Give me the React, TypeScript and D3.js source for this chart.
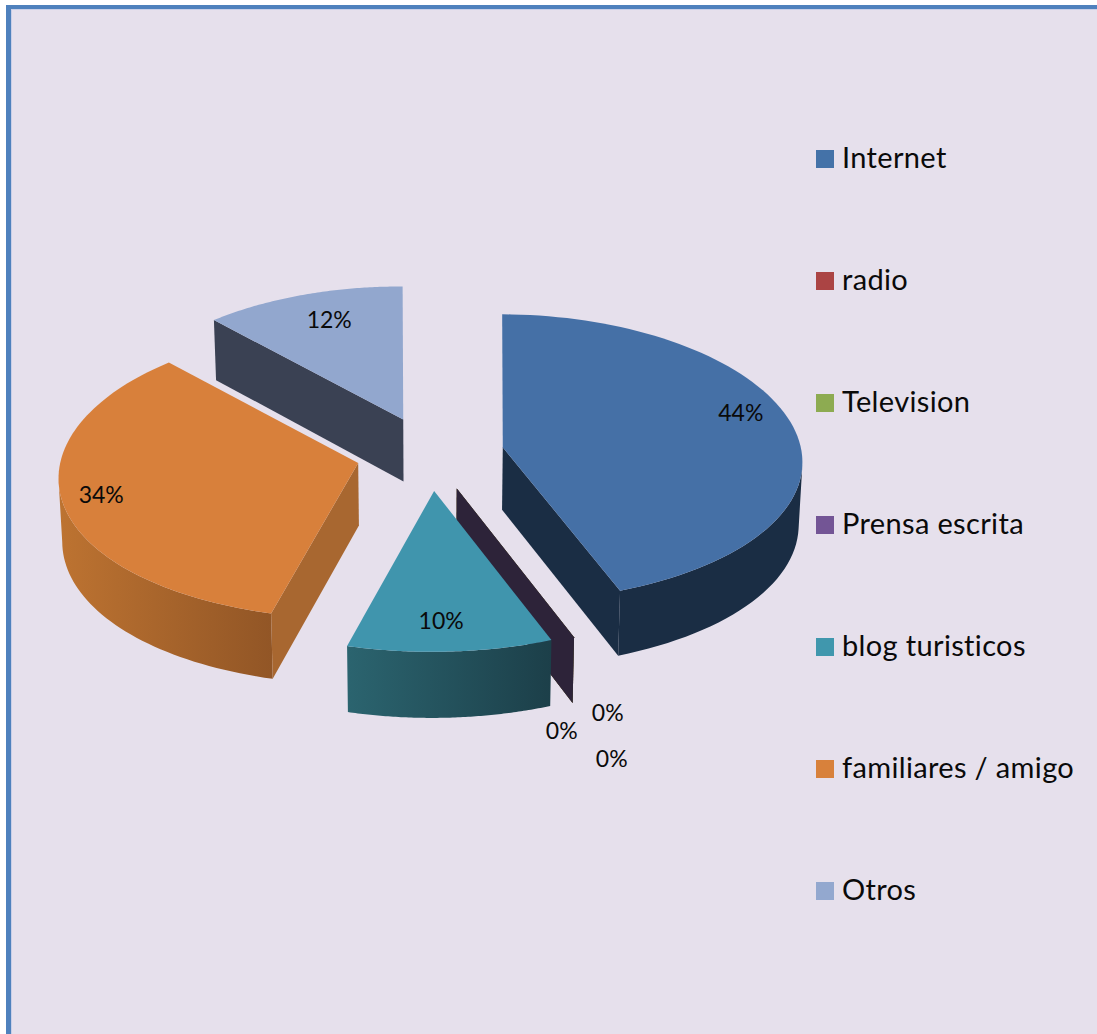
import React from "react";
import * as d3 from "d3";

// Share of answers per information source (percent)
const categories = ["Internet", "radio", "Television", "Prensa escrita", "blog turisticos", "familiares / amigo", "Otros"];
const shares = [44, 0, 0, 0, 10, 34, 12];

const WIDTH = 1097;
const HEIGHT = 1034;

// Per-category appearance
const topColors = ["#4570a6", "#ab4543", "#8dab51", "#735595", "#4095ad", "#d8803b", "#92a7ce"];
const wallFrom = ["#1a2d44", "#5c2322", "#4a5a2b", "#2d2339", "#2b646f", "#bd7331", "#3a4153"];
const wallTo = ["#1a2d44", "#5c2322", "#4a5a2b", "#2d2339", "#1c3f49", "#925626", "#3a4153"];
const sideColors = ["#1a2d44", "#5c2322", "#4a5a2b", "#2d2339", "#25525d", "#a86730", "#3a4153"];
const legendColors = ["#4472a8", "#ab4444", "#8dab51", "#735595", "#4097ad", "#d8813b", "#93a8cf"];

// Where each value label sits, relative to the apex of its slice
const labelOffsets: [number, number][] = [
  [238, -35],
  [105, 242],
  [151, 224],
  [155, 270],
  [7, 130],
  [-257, 32],
  [-74, -100],
];

// Projection of the tilted pie
const CX = 430;
const CY = 454;
const RX = 298;
const RY = 143;
const PERSPECTIVE_X = 0.105;
const PERSPECTIVE_Y = 0.075;
const VIEW_LEAN = 2.5;
const FRONT_STRETCH = 0.0011;
const EXPLODE_X = 74;
const EXPLODE_Y = 37;
const DEPTH = 62.5;
const ROTATION = (0.4 * Math.PI) / 180;

type Pt = [number, number];

const rimOffset = (a: number): Pt => {
  const u = Math.sin(a);
  const v = -Math.cos(a);
  return [
    (RX * u) / (1 - PERSPECTIVE_X * v) - VIEW_LEAN * v * v,
    (RY * v) / (1 - PERSPECTIVE_Y * v),
  ];
};

// Point on the lower face, directly beneath a point of the upper face
const drop = ([x, y]: Pt): Pt => [
  x - (x - CX) * 0.01,
  y + DEPTH * (1 + (y - CY) * 0.00029),
];

// Angles at which the rim turns, i.e. the silhouette of the cylinder
const sweep = d3.range(0, 721).map((d) => (d * Math.PI) / 360);
const rightTurn = d3.greatest(sweep, (a) => rimOffset(a)[0]) as number;
const leftTurn = d3.least(sweep, (a) => rimOffset(a)[0]) as number;

const pieLayout = d3
  .pie<number>()
  .sort(null)
  .value((d) => d)
  .startAngle(ROTATION)
  .endAngle(ROTATION + Math.PI * 2);

const linePath = d3.line<Pt>();
const closed = (pts: Pt[]) => linePath(pts) + "Z";

const slices = pieLayout(shares).map((arc, i) => {
  const mid = (arc.startAngle + arc.endAngle) / 2;
  const apex: Pt = [CX + EXPLODE_X * Math.sin(mid), CY - EXPLODE_Y * Math.cos(mid)];
  // Slices pushed toward the viewer look a little deeper
  const stretch = 1 + Math.max(0, apex[1] - CY) * FRONT_STRETCH;
  const at = (a: number): Pt => {
    const [dx, dy] = rimOffset(a);
    return [apex[0] + dx, apex[1] + dy * stretch];
  };
  const steps = d3.range(0, 81).map((k) => arc.startAngle + ((arc.endAngle - arc.startAngle) * k) / 80);
  const rim = steps.map(at);
  // Only the part of the curved wall facing the viewer is drawn
  const frontSteps = steps.filter((a) => a >= rightTurn && a <= leftTurn);
  const frontRim = frontSteps.map(at);
  const first = rim[0];
  const last = rim[rim.length - 1];
  const showStart = Math.sin(arc.startAngle) < -0.1;
  const showEnd = Math.sin(arc.endAngle) > 0.1;
  return {
    i,
    apex,
    rim,
    top: closed([apex, ...rim]),
    outer: frontRim.length > 1 ? closed([...frontRim, ...frontRim.map(drop).reverse()]) : null,
    start: showStart ? closed([first, apex, drop(apex), drop(first)]) : null,
    end: showEnd ? closed([apex, last, drop(last), drop(apex)]) : null,
    x0: d3.min(rim, (p) => p[0]) as number,
    x1: d3.max(rim, (p) => p[0]) as number,
    empty: shares[i] === 0,
  };
});

// Back slices first so nearer ones paint over them
const paintOrder = [6, 5, 1, 2, 3, 0, 4];

const legendY = d3
  .scalePoint<string>()
  .domain(categories)
  .range([159, 891]);

export default function App() {
  return (
    <svg
      width={WIDTH}
      height={HEIGHT}
      viewBox={`0 0 ${WIDTH} ${HEIGHT}`}
      style={{ position: "absolute", left: 0, top: 0, display: "block", background: "#ffffff" }}
    >
      <defs>
        {slices.map((s) => (
          <linearGradient
            key={s.i}
            id={`wall-${s.i}`}
            gradientUnits="userSpaceOnUse"
            x1={s.x0}
            x2={s.x1}
            y1={0}
            y2={0}
          >
            <stop offset="0" stopColor={wallFrom[s.i]} />
            <stop offset="1" stopColor={wallTo[s.i]} />
          </linearGradient>
        ))}
      </defs>

      {/* Panel */}
      <rect x={6} y={5} width={WIDTH - 6} height={HEIGHT - 5} fill="#4f81bd" />
      <rect x={11} y={9} width={WIDTH - 11} height={HEIGHT - 9} fill="#c9cfe8" />
      <rect x={12} y={10} width={WIDTH - 12} height={HEIGHT - 10} fill="#e6e0ec" />

      {/* Slices */}
      {paintOrder.map((idx) => {
        const s = slices[idx];
        if (s.empty) {
          return s.end ? <path key={idx} d={s.end} fill={sideColors[idx]} /> : null;
        }
        return (
          <g key={idx}>
            {s.outer && <path d={s.outer} fill={`url(#wall-${idx})`} />}
            {s.end && <path d={s.end} fill={sideColors[idx]} />}
            {s.start && <path d={s.start} fill={sideColors[idx]} />}
            <path d={s.top} fill={topColors[idx]} />
          </g>
        );
      })}

      {/* Value labels */}
      <g fontFamily="Lato, Carlito, sans-serif" fontSize={23} fill="#0a0a0a" textAnchor="middle">
        {slices.map((s) => (
          <text
            key={s.i}
            x={s.apex[0] + labelOffsets[s.i][0]}
            y={s.apex[1] + labelOffsets[s.i][1]}
            dy="0.36em"
          >
            {`${shares[s.i]}%`}
          </text>
        ))}
      </g>

      {/* Legend */}
      <g fontFamily="Lato, Carlito, sans-serif" fontSize={29} letterSpacing={0.35} fill="#0a0a0a">
        {categories.map((c, i) => {
          const y = legendY(c) as number;
          return (
            <g key={c}>
              <rect x={816} y={y - 9} width={18} height={18} fill={legendColors[i]} />
              <text x={842} y={y + 9}>
                {c}
              </text>
            </g>
          );
        })}
      </g>
    </svg>
  );
}
